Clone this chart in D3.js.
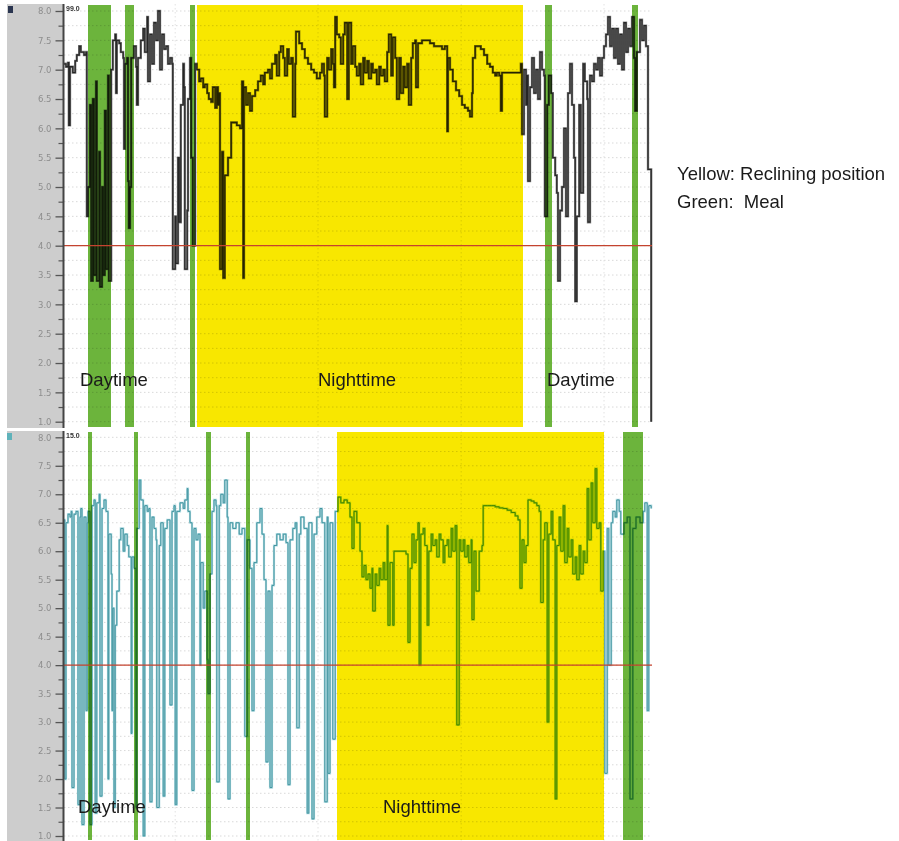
<!DOCTYPE html>
<html><head><meta charset="utf-8">
<script src="https://cdn.jsdelivr.net/npm/d3@7"></script>
<style>
html,body{margin:0;padding:0;background:#fff;}
svg{display:block;}
text{font-family:"Liberation Sans",Arial,Helvetica,sans-serif;}
</style></head>
<body>
<svg id="chart" width="899" height="841"></svg>
<script>
// ---------------- DATA ----------------
// time in minutes from start of recording (0 .. 1470), pH values
const pHMajorTicks = [1.0,1.5,2.0,2.5,3.0,3.5,4.0,4.5,5.0,5.5,6.0,6.5,7.0,7.5,8.0];
const pHMinorTicks = [1.25,1.75,2.25,2.75,3.25,3.75,4.25,4.75,5.25,5.75,6.25,6.75,7.25,7.75];
const pHThreshold = 4.0;
const verticalGridTimes = [278, 635, 993, 1350];

const topTimes = [0,5,10,12,15,22,28,32,38,42,50,55,57,60,65,68,72,75,80,82,88,90,95,98,102,105,110,112,118,122,128,130,132,138,142,148,150,152,158,160,162,165,168,175,180,182,185,192,198,202,208,210,215,220,225,230,235,240,245,250,255,260,265,270,272,278,280,285,288,292,298,300,302,308,310,315,318,322,328,332,338,342,348,352,358,362,368,372,378,382,385,388,390,395,398,402,410,418,428,432,440,445,448,450,455,460,465,470,478,485,492,498,502,510,515,520,528,532,538,542,548,552,558,562,568,572,578,580,588,595,602,610,618,625,632,640,645,650,652,658,662,668,672,675,678,682,688,692,698,702,708,712,718,722,728,732,738,742,748,752,758,762,768,772,778,782,788,792,798,802,808,812,818,822,828,832,838,842,848,852,858,862,868,872,878,880,885,895,905,915,925,935,945,952,958,960,965,972,980,988,995,1002,1010,1015,1020,1022,1028,1035,1042,1050,1058,1065,1072,1078,1082,1088,1090,1092,1095,1105,1115,1125,1135,1142,1145,1150,1155,1158,1160,1165,1170,1175,1180,1185,1190,1195,1200,1202,1208,1212,1218,1222,1228,1232,1235,1240,1245,1250,1255,1260,1265,1270,1275,1278,1282,1288,1292,1298,1302,1308,1310,1315,1320,1325,1330,1335,1340,1345,1350,1355,1360,1365,1370,1375,1380,1385,1390,1395,1400,1405,1410,1415,1420,1425,1428,1432,1440,1445,1450,1455,1460,1465,1468];
const topPH = [7.10,7.05,7.12,6.05,7.05,6.95,7.15,7.25,7.40,7.30,7.25,7.30,4.50,5.0,6.4,3.4,6.5,3.5,6.8,3.4,5.6,3.3,5.0,3.5,6.3,3.6,6.9,3.4,7.0,7.5,7.6,6.6,7.5,7.45,7.3,7.2,5.65,7.1,7.2,5.1,4.3,5.0,7.2,7.4,7.05,6.4,7.2,7.5,7.7,7.3,7.9,6.8,7.6,7.1,7.8,7.5,8.0,7.0,7.6,7.35,7.4,7.1,7.2,7.1,3.6,4.5,3.7,5.5,4.4,6.4,7.1,6.7,3.6,4.6,6.5,7.2,5.5,4.0,7.1,7.0,6.8,6.85,6.7,6.75,6.6,6.5,6.45,6.7,6.35,6.7,6.4,6.6,3.6,5.6,3.45,5.2,5.5,6.1,6.1,6.05,6.0,6.8,3.45,6.7,6.4,6.6,6.3,6.55,6.65,6.8,6.9,6.75,6.95,7.0,6.85,7.1,7.25,6.9,7.3,7.4,7.2,6.9,7.35,7.1,7.2,6.2,7.1,7.65,7.45,7.35,7.2,7.1,7.0,6.95,6.85,6.95,7.1,6.9,6.2,7.2,7.0,7.35,7.1,6.7,7.9,7.6,7.55,7.1,7.6,7.8,6.5,7.8,7.1,7.4,7.05,6.9,7.1,6.75,7.2,6.95,7.15,6.85,7.1,6.95,7.0,6.75,7.05,6.9,7.0,6.8,7.3,7.6,6.9,7.55,7.2,6.5,7.2,6.6,7.05,6.7,7.1,6.4,7.2,7.45,7.5,6.7,7.45,7.5,7.5,7.45,7.4,7.4,7.35,7.4,5.95,7.2,7.0,6.8,6.65,6.55,6.4,6.35,6.3,6.2,6.6,7.2,7.4,7.4,7.35,7.25,7.1,7.05,6.95,6.9,6.95,6.9,6.9,6.3,6.95,6.95,6.95,6.95,6.95,7.1,5.9,7.0,6.4,6.9,5.1,6.7,7.2,6.6,7.0,6.5,7.3,7.0,6.9,4.5,6.4,6.9,6.6,5.5,5.2,4.9,3.4,4.6,5.0,6.0,4.5,6.6,7.1,6.4,5.5,3.05,4.5,6.4,4.9,7.1,6.8,6.5,4.4,6.9,6.8,7.1,7.0,7.2,6.9,7.2,7.4,7.6,7.9,7.4,7.7,7.2,7.7,7.1,7.6,7.0,7.8,7.3,7.7,7.4,7.9,7.2,6.3,7.3,7.85,7.5,7.75,7.4,5.3,5.3,1.0];

const bottomTimes = [0,2,5,10,15,18,20,25,30,35,40,42,45,50,55,58,60,65,70,75,78,82,88,90,95,100,105,110,112,118,120,122,125,128,132,138,142,148,152,158,162,168,170,175,180,182,188,192,198,202,208,212,215,220,225,230,232,238,242,248,252,258,265,270,275,278,282,290,298,302,308,310,315,320,325,330,335,340,342,348,352,358,360,365,370,375,380,382,388,392,398,402,408,410,415,422,430,438,445,452,458,465,470,475,482,490,495,500,505,510,515,520,525,532,540,548,555,560,565,572,578,582,588,592,600,608,612,620,625,632,640,645,652,658,660,665,672,678,685,692,700,708,715,720,725,732,740,745,750,755,760,765,770,772,778,782,788,792,798,802,808,810,815,822,825,835,845,855,860,865,870,875,880,885,888,892,898,902,908,912,918,922,928,932,938,942,948,952,958,962,968,972,978,982,988,992,998,1002,1008,1012,1018,1020,1025,1030,1038,1045,1048,1058,1068,1078,1088,1098,1108,1118,1128,1135,1140,1145,1150,1155,1160,1168,1175,1182,1188,1192,1198,1202,1208,1212,1218,1222,1228,1232,1238,1242,1248,1252,1258,1262,1268,1272,1278,1282,1288,1292,1298,1302,1308,1312,1318,1322,1328,1332,1338,1342,1348,1352,1358,1362,1368,1372,1378,1382,1388,1392,1400,1408,1415,1422,1430,1440,1448,1452,1458,1462,1468];
const bottomPH = [6.55,2.0,6.5,6.65,6.6,6.7,1.85,6.65,6.7,1.55,6.6,6.75,1.2,6.6,3.2,6.5,6.7,1.2,6.8,6.9,1.4,6.85,7.0,1.7,6.75,6.9,6.7,2.0,6.3,5.6,3.2,5.0,1.5,4.7,5.3,6.2,6.4,6.0,6.3,6.1,5.9,2.8,5.9,5.7,1.5,6.4,7.25,6.9,1.0,6.8,6.7,6.75,1.6,6.6,6.4,6.2,1.5,6.1,6.5,1.7,6.4,6.55,3.3,6.7,6.8,1.55,6.7,6.85,6.75,6.9,7.1,6.7,6.5,1.8,6.4,6.2,6.3,4.0,5.8,5.0,5.3,4.1,3.5,5.6,6.7,6.9,6.8,1.95,6.8,7.0,6.85,7.25,6.6,1.65,6.5,6.4,6.5,6.3,6.4,2.75,6.2,5.7,3.2,5.8,6.5,6.75,6.3,5.5,2.3,5.3,1.85,5.4,6.1,6.3,6.2,6.3,6.15,1.9,6.2,6.4,6.5,2.9,6.3,6.6,6.4,1.4,6.5,1.3,6.3,6.6,6.75,6.5,1.6,6.6,2.1,6.5,2.7,6.7,6.95,6.85,6.9,6.85,6.6,6.05,6.7,6.5,6.0,5.55,5.75,5.5,5.6,5.35,5.7,4.95,5.6,5.4,5.7,5.5,5.8,5.5,6.45,4.7,5.8,4.7,6.0,6.0,6.0,5.95,4.4,5.7,6.3,5.8,6.2,6.5,4.0,6.3,6.4,6.1,4.7,6.0,6.3,6.1,6.2,5.9,6.3,6.2,5.8,6.1,6.2,5.9,6.4,6.0,6.45,2.95,6.2,6.0,6.2,5.9,6.1,5.8,6.2,4.8,6.0,5.3,6.0,6.1,6.8,6.8,6.8,6.78,6.76,6.75,6.72,6.68,6.62,6.55,5.35,6.2,5.8,6.1,6.9,6.88,6.85,6.8,6.7,5.1,6.2,6.5,3.0,6.3,6.7,6.2,1.65,6.1,6.6,6.0,6.8,5.8,6.4,5.9,6.2,5.6,5.9,5.5,6.1,5.6,6.0,5.8,7.1,6.2,7.2,6.5,7.45,6.4,6.5,5.3,6.0,2.1,6.4,4.0,6.5,6.7,6.6,6.9,6.7,6.3,6.5,6.6,1.65,6.4,6.6,6.5,6.7,6.85,3.2,6.8,6.75];

// shaded periods [start, end] in minutes
const topReclining = [[332.5,1147.5]];
const topMeals = [[60,117.5],[152.5,175],[315,327.5],[1202.5,1220],[1420,1435]];
const bottomReclining = [[682.5,1350]];
const bottomMeals = [[60,70],[175,185],[355,367.5],[455,465],[1397.5,1447.5]];

const topLabels = [{t:40,text:"Daytime"},{t:635,text:"Nighttime"},{t:1207.5,text:"Daytime"}];
const bottomLabels = [{t:35,text:"Daytime"},{t:797.5,text:"Nighttime"}];
const legendLines = ["Yellow: Reclining position","Green:\u00a0 Meal"];
const cornerLabels = ["99.0","15.0"];

// ---------------- DRAW ----------------
const svg = d3.select("#chart");
const YELLOW = "#f8e700", GREEN = "#6cb43c";
const x = d3.scaleLinear().domain([0,1470]).range([64,652]);

function panel(cfg){
  const g = svg.append("g");
  const y = d3.scaleLinear().domain([1,8]).range([cfg.yAt1, cfg.yAt8]);
  g.append("rect").attr("x",7).attr("y",cfg.top).attr("width",56).attr("height",cfg.bottom-cfg.top).attr("fill","#cdcdcd");
  g.append("rect").attr("x",cfg.iconX).attr("y",cfg.top+2).attr("width",5).attr("height",7).attr("fill",cfg.iconColor);
  const allTicks = pHMajorTicks.concat(pHMinorTicks);
  g.append("g").selectAll("line").data(allTicks).join("line")
    .attr("x1",64).attr("x2",652).attr("y1",d=>y(d)).attr("y2",d=>y(d))
    .attr("stroke","#d9d9d9").attr("stroke-width",1).attr("stroke-dasharray","1.5,2.5");
  g.append("g").selectAll("line").data(verticalGridTimes).join("line")
    .attr("x1",d=>x(d)).attr("x2",d=>x(d)).attr("y1",cfg.top).attr("y2",cfg.bottom)
    .attr("stroke","#e2e2e2").attr("stroke-width",1).attr("stroke-dasharray","1.5,2.5");
  const pts = cfg.times.map((t,i)=>[t,cfg.values[i]]);
  const line = d3.line().curve(d3.curveStepAfter).x(d=>x(d[0])).y(d=>y(d[1]));
  if(cfg.under){
    g.append("path").attr("d",line(pts)).attr("fill","none").attr("stroke",cfg.under).attr("stroke-width",cfg.underW);
  }
  g.append("path").attr("d",line(pts)).attr("fill","none").attr("stroke",cfg.color).attr("stroke-width",cfg.width).attr("stroke-opacity",cfg.opacity||1);
  const bands = g.append("g").style("mix-blend-mode","multiply");
  bands.selectAll("rect.y").data(cfg.reclining).join("rect").attr("class","y")
    .attr("x",d=>x(d[0])).attr("width",d=>x(d[1])-x(d[0]))
    .attr("y",cfg.top+1).attr("height",cfg.bottom-cfg.top-2).attr("fill",YELLOW);
  bands.selectAll("rect.g").data(cfg.meals).join("rect").attr("class","g")
    .attr("x",d=>x(d[0])).attr("width",d=>x(d[1])-x(d[0]))
    .attr("y",cfg.top+1).attr("height",cfg.bottom-cfg.top-2).attr("fill",GREEN);
  g.append("line").attr("x1",64).attr("x2",652).attr("y1",y(pHThreshold)).attr("y2",y(pHThreshold))
    .attr("stroke","#c4432f").attr("stroke-width",1.3);
  const ax = g.append("g").attr("transform","translate(63.5,0)")
    .call(d3.axisLeft(y).tickValues(pHMajorTicks).tickSize(8).tickPadding(4).tickFormat(d3.format(".1f")));
  ax.select(".domain").remove();
  ax.selectAll("line").attr("stroke","#555").attr("stroke-width",1.3);
  ax.selectAll("text").attr("fill","#8d8d8d").style("font-family","'DejaVu Sans',sans-serif").style("font-size","8.5px");
  const axm = g.append("g").attr("transform","translate(63.5,0)")
    .call(d3.axisLeft(y).tickValues(pHMinorTicks).tickSize(5).tickFormat(""));
  axm.select(".domain").remove();
  axm.selectAll("line").attr("stroke","#555").attr("stroke-width",1.2);
  g.append("line").attr("x1",63.5).attr("x2",63.5).attr("y1",cfg.top).attr("y2",cfg.bottom).attr("stroke","#444").attr("stroke-width",2);
  g.append("text").attr("x",66).attr("y",cfg.top+7).text(cfg.corner)
    .style("font-size","7px").style("font-weight","bold").attr("fill","#333");
  g.selectAll("text.lab").data(cfg.labels).join("text").attr("class","lab")
    .attr("x",d=>x(d.t)).attr("y",cfg.labelY).text(d=>d.text)
    .style("font-size","18.5px").attr("fill","#1a1a1a");
}

panel({top:4,bottom:428,yAt1:421.7,yAt8:11,times:topTimes,values:topPH,
  color:"#262626",width:1.3,under:"#8a8a8a",underW:2.4,
  reclining:topReclining,meals:topMeals,labels:topLabels,labelY:386,
  iconX:8,iconColor:"#2a3550",corner:cornerLabels[0]});
panel({top:431,bottom:841,yAt1:836,yAt8:437.3,times:bottomTimes,values:bottomPH,
  color:"#3f939e",width:1.0,under:"#b2dbe2",underW:2.2,
  reclining:bottomReclining,meals:bottomMeals,labels:bottomLabels,labelY:813,
  iconX:7,iconColor:"#5fb2ba",corner:cornerLabels[1]});

svg.selectAll("text.leg").data(legendLines).join("text").attr("class","leg")
  .attr("x",677).attr("y",(d,i)=>180+i*28).text(d=>d)
  .style("font-size","18.5px").attr("fill","#1a1a1a");
</script>
</body></html>
